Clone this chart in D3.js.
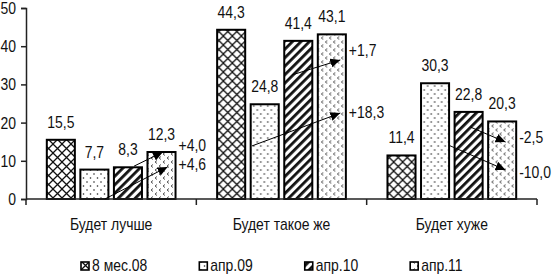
<!DOCTYPE html>
<html>
<head>
<meta charset="utf-8">
<script src="https://cdn.jsdelivr.net/npm/d3@7"></script>
<style>
body { margin: 0; background: #fff; }
text { font-family: "Liberation Sans Narrow", "Arial Narrow", "Liberation Sans", Arial, sans-serif; font-size: 17px; fill: #111; }
</style>
</head>
<body>
<script>
var fullWidth = 552;
var fullHeight = 275;

var categories = ["Будет лучше", "Будет такое же", "Будет хуже"];
var seriesNames = ["8 мес.08", "апр.09", "апр.10", "апр.11"];
var s08 = [15.5, 44.3, 11.4];
var s09 = [7.7, 24.8, 30.3];
var s10 = [8.3, 41.4, 22.8];
var s11 = [12.3, 43.1, 20.3];
var yTicks = [0, 10, 20, 30, 40, 50];

// change arrows: category index, start/end (position in bar steps, value), label and its value
var arrowCat = [0, 0, 1, 1, 2, 2];
var arrowP0 = [2.6, 1.73, 2.24, 1.04, 2.48, 1.82];
var arrowV0 = [8.6, 0, 32.5, 13.9, 18.8, 14.1];
var arrowP1 = [3.46, 3.6, 3.67, 3.67, 3.52, 3.52];
var arrowV1 = [12.3, 8.4, 36.4, 22.5, 14.9, 7.6];
var arrowText = ["+4,0", "+4,6", "+1,7", "+18,3", "-2,5", "-10,0"];
var arrowTextV = [14.1, 9.2, 39.0, 22.8, 16.2, 7.1];

var margin = {top: 8, left: 26, right: 15, bottom: 76};

// the original uses a narrow font; squeeze the regular one
var narrow = 0.82;
function condense(sel) {
    sel.each(function() {
        var w = this.getComputedTextLength();
        d3.select(this).attr("textLength", w * narrow)
          .attr("lengthAdjust", "spacingAndGlyphs");
    });
}

window.onload = function() {
    var allSeries = [s08, s09, s10, s11];
    var fmt = function(v) { return d3.format(".1f")(v).replace(".", ","); };

    var svg = d3.select("body").append("svg")
                .attr("width", fullWidth)
                .attr("height", fullHeight);

    var defs = svg.append("defs");

    // crosshatch
    var p0 = defs.append("pattern").attr("id", "pat0")
        .attr("patternUnits", "userSpaceOnUse").attr("width", 9).attr("height", 9);
    p0.append("rect").attr("width", 9).attr("height", 9).attr("fill", "#fff");
    p0.append("path").attr("d", "M-1,-1 L10,10 M10,-1 L-1,10")
      .attr("stroke", "#111").attr("stroke-width", 1.3);

    // dots
    var p1 = defs.append("pattern").attr("id", "pat1")
        .attr("patternUnits", "userSpaceOnUse").attr("width", 7).attr("height", 8);
    p1.append("rect").attr("width", 7).attr("height", 8).attr("fill", "#fff");
    p1.append("circle").attr("cx", 1.5).attr("cy", 2).attr("r", 0.8).attr("fill", "#222");
    p1.append("circle").attr("cx", 5).attr("cy", 6).attr("r", 0.8).attr("fill", "#222");

    // thick stripes
    var p2 = defs.append("pattern").attr("id", "pat2")
        .attr("patternUnits", "userSpaceOnUse").attr("width", 6).attr("height", 6)
        .attr("patternTransform", "rotate(45)");
    p2.append("rect").attr("width", 6).attr("height", 6).attr("fill", "#fff");
    p2.append("rect").attr("width", 2.8).attr("height", 6).attr("fill", "#111");

    // small chevrons
    var p3 = defs.append("pattern").attr("id", "pat3")
        .attr("patternUnits", "userSpaceOnUse").attr("width", 8).attr("height", 8);
    p3.append("rect").attr("width", 8).attr("height", 8).attr("fill", "#fff");
    p3.append("path").attr("d", "M3,0.5 L1,2 L3,3.5 M7,4.5 L5,6 L7,7.5")
      .attr("stroke", "#444").attr("stroke-width", 0.9).attr("fill", "none");

    defs.append("marker").attr("id", "arrow")
        .attr("markerUnits", "userSpaceOnUse")
        .attr("markerWidth", 11).attr("markerHeight", 10)
        .attr("refX", 10).attr("refY", 4.5)
        .attr("orient", "auto")
        .append("path").attr("d", "M0,0 L10,4.5 L0,9 Z").attr("fill", "#000");

    var x0 = d3.scaleBand().domain(categories)
               .range([margin.left, fullWidth - margin.right]).padding(0);
    var x1 = d3.scaleBand().domain(seriesNames)
               .range([0, x0.bandwidth()]).paddingInner(0.164).paddingOuter(0.62);
    var pos = d3.scaleLinear().domain([0, 1])
                .range([x1(seriesNames[0]), x1(seriesNames[1])]);
    var y = d3.scaleLinear().domain([0, 50])
              .range([fullHeight - margin.bottom, margin.top]);

    // bars
    var groups = svg.selectAll(".grp")
        .data(categories).enter().append("g")
        .attr("class", "grp")
        .attr("transform", function(d) { return "translate(" + x0(d) + ",0)"; });

    groups.selectAll("rect")
        .data(function(d, ci) {
            return seriesNames.map(function(s, si) { return {s: s, si: si, v: allSeries[si][ci]}; });
        })
        .enter().append("rect")
        .attr("x", function(d) { return x1(d.s); })
        .attr("y", function(d) { return y(d.v); })
        .attr("width", x1.bandwidth())
        .attr("height", function(d) { return y(0) - y(d.v); })
        .attr("fill", function(d) { return "url(#pat" + d.si + ")"; })
        .attr("stroke", "#000")
        .attr("stroke-width", 2);

    groups.selectAll(".val")
        .data(function(d, ci) {
            return seriesNames.map(function(s, si) { return {s: s, v: allSeries[si][ci]}; });
        })
        .enter().append("text")
        .attr("class", "val")
        .attr("x", function(d) { return x1(d.s) + x1.bandwidth() / 2; })
        .attr("y", function(d) { return y(d.v) - 12; })
        .style("text-anchor", "middle")
        .text(function(d) { return fmt(d.v); })
        .call(condense);

    // axes
    var yAxis = d3.axisLeft(y).tickValues(yTicks).tickSize(5).tickPadding(5);
    var gy = svg.append("g")
       .attr("transform", "translate(" + margin.left + ",0)")
       .call(yAxis);
    gy.select(".domain").attr("stroke", "#222").attr("stroke-width", 1.5);
    gy.selectAll(".tick line").attr("stroke", "#222").attr("stroke-width", 1.5);
    gy.selectAll("text").attr("font-family", null).attr("font-size", null)
      .style("fill", "#111").call(condense);

    var gx = svg.append("g")
       .attr("transform", "translate(0," + y(0) + ")");
    gx.append("line")
      .attr("x1", margin.left).attr("x2", fullWidth - margin.right)
      .attr("stroke", "#222").attr("stroke-width", 1.5);
    gx.selectAll(".xt")
      .data(categories.concat([null])).enter().append("line")
      .attr("class", "xt")
      .attr("x1", function(d) { return d ? x0(d) : x0.range()[1]; })
      .attr("x2", function(d) { return d ? x0(d) : x0.range()[1]; })
      .attr("y1", 0).attr("y2", 6)
      .attr("stroke", "#222").attr("stroke-width", 1.5);
    gx.selectAll(".cat")
      .data(categories).enter().append("text")
      .attr("class", "cat")
      .attr("x", function(d) { return x0(d) + x0.bandwidth() / 2; })
      .attr("y", 31)
      .style("text-anchor", "middle")
      .text(function(d) { return d; })
      .call(condense);

    // change arrows
    arrowCat.forEach(function(ci, i) {
        var cx = x0(categories[ci]);
        svg.append("line")
           .attr("x1", cx + pos(arrowP0[i])).attr("y1", y(arrowV0[i]))
           .attr("x2", cx + pos(arrowP1[i])).attr("y2", y(arrowV1[i]))
           .attr("stroke", "#000").attr("stroke-width", 1)
           .attr("marker-end", "url(#arrow)");
        svg.append("text")
           .attr("x", cx + x1(seriesNames[3]) + x1.bandwidth() + 3)
           .attr("y", y(arrowTextV[i]))
           .attr("dy", "0.35em")
           .text(arrowText[i])
           .call(condense);
    });

    // legend
    var lx = 81;
    seriesNames.forEach(function(s, i) {
        svg.append("rect")
           .attr("x", lx).attr("y", 262).attr("width", 8).attr("height", 8)
           .attr("fill", "url(#pat" + i + ")")
           .attr("stroke", "#000").attr("stroke-width", 1.6);
        var t = svg.append("text")
           .attr("x", lx + 11).attr("y", 271)
           .text(s)
           .call(condense);
        lx = lx + 11 + (+t.attr("textLength")) + 52;
    });
};
</script>
</body>
</html>
